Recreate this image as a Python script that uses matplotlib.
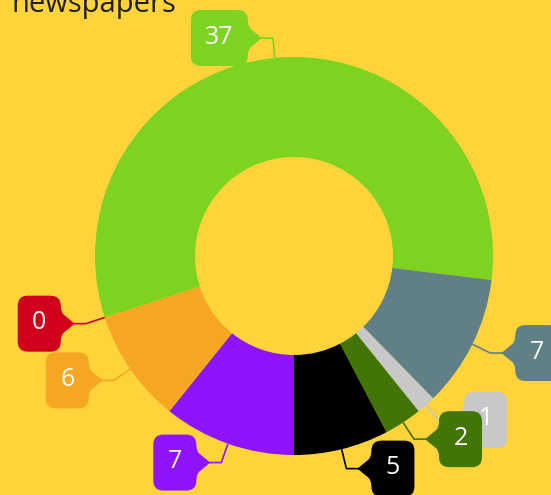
import numpy as np
import matplotlib.pyplot as plt
from matplotlib.patches import FancyBboxPatch, PathPatch
from matplotlib.path import Path

# ---- data ----
title = "newspapers"
values = [37, 7, 1, 2, 5, 7, 6, 0]
labels = [str(v) for v in values]
colors = ["#7ED321", "#618086", "#C8C8C8", "#417505", "#000000",
          "#9013FE", "#F5A623", "#D0021B"]

# ---- layout / style ----
W, H = 551, 495
BG = "#FFD43B"
cx, cy = 294, H - 256
R_OUT, RING = 199, 100

fig = plt.figure(figsize=(W / 100, H / 100), dpi=100, facecolor=BG)
ax = fig.add_axes([0, 0, 1, 1])
ax.set_facecolor(BG)

wedges, _ = ax.pie(values, colors=colors, startangle=-162, counterclock=False,
                   radius=R_OUT, center=(cx, cy), frame=True,
                   wedgeprops=dict(width=RING, linewidth=0))

ax.set_xlim(0, W)
ax.set_ylim(0, H)
ax.set_aspect('equal')
ax.axis('off')

ax.text(12, H - 12, title, fontsize=21, color="#1e1e1e", ha='left',
        va='baseline', family='Open Sans')

BOX_H = 56
ELBOW = 20
GAP = 11
PTR = 14
for i, (w, lab, col) in enumerate(zip(wedges, labels, colors)):
    mid = np.deg2rad((w.theta1 + w.theta2) / 2)
    ux, uy = np.cos(mid), np.sin(mid)
    ax0, ay0 = cx + R_OUT * ux, cy + R_OUT * uy
    ex, ey = cx + (R_OUT + ELBOW) * ux, cy + (R_OUT + ELBOW) * uy
    side = 1 if ux >= 0 else -1
    tx = ex + side * GAP
    near = tx + side * PTR
    bw = 14 * len(lab) + 29
    bcx = near + side * bw / 2
    z = 5 + i * 3
    ax.plot([ax0, ex, tx + side * 2], [ay0, ey, ey], color=col, lw=1.2,
            solid_capstyle='butt', zorder=z)
    box = FancyBboxPatch((bcx - bw / 2, ey - BOX_H / 2), bw, BOX_H,
                         boxstyle="round,pad=0,rounding_size=10",
                         fc=col, ec='none', zorder=z + 1)
    ax.add_patch(box)
    s = side
    verts = [(near + s * 8, ey + 17),
             (near, ey + 17),
             (near, ey + 12), (near - s * 3, ey + 9),
             (tx, ey),
             (near - s * 3, ey - 9),
             (near, ey - 12), (near, ey - 17),
             (near + s * 8, ey - 17),
             (near + s * 8, ey + 17)]
    codes = [Path.MOVETO, Path.LINETO, Path.CURVE3, Path.CURVE3,
             Path.LINETO, Path.LINETO, Path.CURVE3, Path.CURVE3,
             Path.LINETO, Path.CLOSEPOLY]
    ax.add_patch(PathPatch(Path(verts, codes), fc=col, ec='none', lw=0,
                           zorder=z + 1))
    ax.text(bcx, ey + 1, lab, color='white', fontsize=18, ha='center',
            va='center', family='Open Sans', zorder=z + 2)

fig.savefig("out.png", dpi=100, facecolor=BG)
